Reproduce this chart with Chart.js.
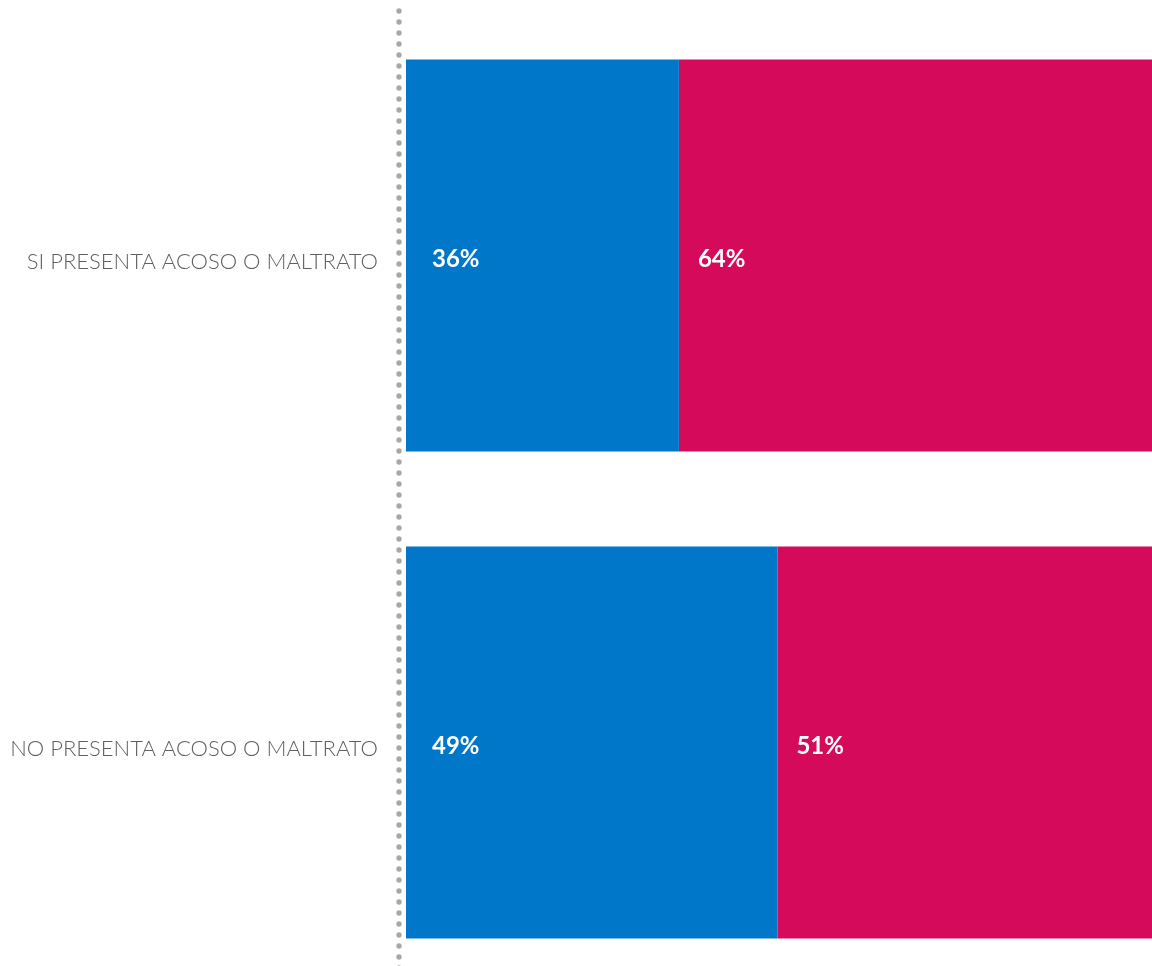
<!DOCTYPE html>
<html lang="es">
  <head>
    <meta charset="UTF-8" />
    <script src="https://cdn.jsdelivr.net/npm/chart.js"></script>
    <title>Acoso o maltrato</title>
    <style>
      html, body { margin: 0; padding: 0; overflow: hidden; background: #fff; }
      #wrap { position: absolute; left: 0; top: 0; width: 1164px; height: 986px; }
    </style>
  </head>
  <body>
    <div id="wrap">
      <canvas id="myChart"></canvas>
    </div>

    <script>
      // data
      const categories = ["SI PRESENTA ACOSO O MALTRATO", "NO PRESENTA ACOSO O MALTRATO"];
      const blueValues = [36, 49];
      const pinkValues = [64, 51];

      const blue = "#0077c8";
      const pink = "#d60a5a";

      // dotted vertical line next to the category axis
      const dottedAxis = {
        id: "dottedAxis",
        beforeDatasetsDraw(chart) {
          const ctx = chart.ctx;
          const x = chart.chartArea.left - 7;
          ctx.save();
          ctx.fillStyle = "#a8a8a8";
          for (let y = chart.chartArea.top - 1; y < chart.height; y += 11) {
            ctx.beginPath();
            ctx.arc(x, y, 2.7, 0, Math.PI * 2);
            ctx.fill();
          }
          ctx.restore();
        },
      };

      // percentage text inside each bar
      const barLabels = {
        id: "barLabels",
        afterDatasetsDraw(chart) {
          const ctx = chart.ctx;
          const offsets = [26, 19];
          ctx.save();
          ctx.fillStyle = "#ffffff";
          ctx.font = "bold 24px Lato";
          ctx.textAlign = "left";
          ctx.textBaseline = "middle";
          chart.data.datasets.forEach((ds, i) => {
            chart.getDatasetMeta(i).data.forEach((bar, j) => {
              ctx.fillText(ds.data[j] + "%", bar.base + offsets[i], bar.y + 4);
            });
          });
          ctx.restore();
        },
      };

      const config = {
        type: "bar",
        data: {
          labels: categories,
          datasets: [
            { data: blueValues, backgroundColor: blue },
            { data: pinkValues, backgroundColor: pink },
          ],
        },
        options: {
          indexAxis: "y",
          responsive: true,
          maintainAspectRatio: false,
          animation: false,
          barPercentage: 0.805,
          categoryPercentage: 1,
          borderWidth: 0,
          inflateAmount: 0,
          layout: { padding: { top: 12, right: 0, bottom: 0, left: 0 } },
          scales: {
            x: { stacked: true, display: false, min: 0, max: 100 },
            y: {
              stacked: true,
              grid: { display: false },
              border: { display: false },
              ticks: {
                color: "#5f5f5f",
                font: { family: "Lato", size: 22, weight: 300 },
                padding: 20,
                labelOffset: 6,
              },
              afterFit(scale) {
                scale.width = 406;
                scale.paddingTop = 0;
                scale.paddingBottom = 0;
              },
            },
          },
          plugins: {
            legend: { display: false },
            tooltip: { enabled: false },
          },
        },
        plugins: [dottedAxis, barLabels],
      };

      new Chart(document.getElementById("myChart"), config);
    </script>
  </body>
</html>
